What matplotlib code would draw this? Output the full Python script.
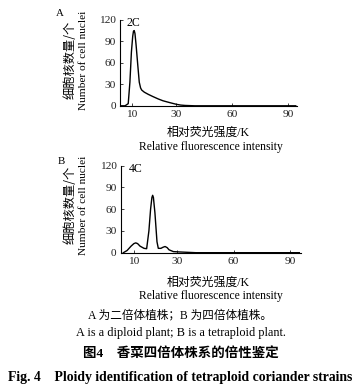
import matplotlib
matplotlib.use("Agg")
import matplotlib.pyplot as plt

# ---- data ----
# Panel A: diploid (2C)
a_x = [0, 2.7, 4.4, 5.3, 6.1, 6.8, 7.2, 7.6, 8.0, 8.6, 9.5, 10.3, 11.0, 11.6, 13.0, 15.1, 17.5, 20.5, 23.0, 25.8, 28.0, 30.3, 32.5, 34.8, 40, 50, 60, 70, 80, 90, 94]
a_y = [0, 0, 3, 33, 75, 97, 104, 105, 101, 85, 57, 33, 25, 22, 19, 16, 13, 9.5, 7, 5, 3.5, 2, 1, 0.5, 0, 0, 0, 0, 0, 0, 0]
# Panel B: tetraploid (4C)
b_x = [1.4, 3.4, 5.5, 7.0, 8.0, 9.0, 10.3, 12.4, 13.8, 15.0, 15.9, 16.6, 17.0, 17.4, 18.2, 19.3, 20.0, 21.4, 22.5, 23.6, 24.7, 25.7, 28.0, 31.5, 35.8, 40, 50, 60, 70, 80, 90, 95]
b_y = [0, 3, 9, 12.5, 13.5, 12.5, 9, 6, 5.5, 30, 60, 76, 79, 76, 55, 15, 6, 6, 7.5, 8.5, 7, 4, 1.5, 1, 0.5, 0, 0, 0, 0, 0, 0, 0]

x_tick_labels = ["10", "30", "60", "90"]
y_ticks = [0, 30, 60, 90, 120]

W, H = 361, 389
fig = plt.figure(figsize=(W / 100, H / 100), dpi=100)

SERIF = ["Liberation Serif", "Noto Sans CJK SC"]
CJK = ["Noto Sans CJK SC", "Liberation Serif"]


def fx(px):
    return px / W


def fy(py):
    return 1 - py / H


def panel(rect, xs, ys, xlim_right, tick10_pos, peak_label, peak_xy, letter, letter_xy,
          ylab_x, ylab_y, xlab_y):
    ax = fig.add_axes(rect)
    ax.plot(xs, ys, color="black", lw=1.0)
    ax.set_xlim(0, xlim_right)
    ax.set_ylim(0, 120)
    ax.set_xticks([tick10_pos, 30, 60, 90])
    ax.set_xticklabels(x_tick_labels)
    ax.set_yticks(y_ticks)
    for s in ("top", "right"):
        ax.spines[s].set_visible(False)
    for s in ("left", "bottom"):
        ax.spines[s].set_linewidth(0.8)
    ax.tick_params(direction="in", length=2, width=0.6, labelsize=8.2, pad=3,
                   colors="#222222")
    for lab in ax.get_xticklabels() + ax.get_yticklabels():
        lab.set_family(SERIF)
    ax.text(peak_xy[0], peak_xy[1], peak_label, fontsize=8.5, family=SERIF,
            ha="center", va="center")
    fig.text(fx(letter_xy[0]), fy(letter_xy[1]), letter, fontsize=7.8, family=SERIF,
             ha="center", va="center")
    fig.text(fx(ylab_x[0]), fy(ylab_y), "细胞核数量/个", fontsize=8.8, family=CJK,
             rotation=90, ha="center", va="center")
    fig.text(fx(ylab_x[1]), fy(ylab_y), "Number of cell nuclei", fontsize=8.1, family=SERIF,
             rotation=90, ha="center", va="center")
    fig.text(fx(208), fy(xlab_y[0]), "相对荧光强度/K", fontsize=8.6, family=SERIF,
             ha="center", va="center")
    fig.text(fx(211), fy(xlab_y[1]), "Relative fluorescence intensity", fontsize=8.4,
             family=SERIF, ha="center", va="center")
    return ax


# Panel A
panel([fx(120), fy(105.8), fx(296.5) - fx(120), (105.8 - 19.8) / H],
      a_x, a_y, 94.4, 6.3, "2C", (7.3, 116), "A", (60, 13),
      (70, 83), 60, (133, 147))

# Panel B
panel([fx(120.7), fy(252.7), fx(301) - fx(120.7), (252.7 - 165.5) / H],
      b_x, b_y, 95.9, 7.1, "4C", (8.2, 115), "B", (61, 162),
      (70, 83), 205, (283, 296))

fig.text(0.5, fy(315), "A 为二倍体植株；B 为四倍体植株。", fontsize=8.4, family=SERIF,
         ha="center", va="center")
fig.text(0.5, fy(333), "A is a diploid plant; B is a tetraploid plant.", fontsize=8.8,
         family=SERIF, ha="center", va="center")
fig.text(0.5, fy(354), "图4　香菜四倍体株系的倍性鉴定", fontsize=9.7, family=SERIF,
         fontweight="bold", ha="center", va="center")
fig.text(0.5, fy(377), "Fig. 4　Ploidy identification of tetraploid coriander strains",
         fontsize=9.9, family=SERIF, fontweight="bold", ha="center", va="center")

fig.savefig("out.png", dpi=100, facecolor="white")
